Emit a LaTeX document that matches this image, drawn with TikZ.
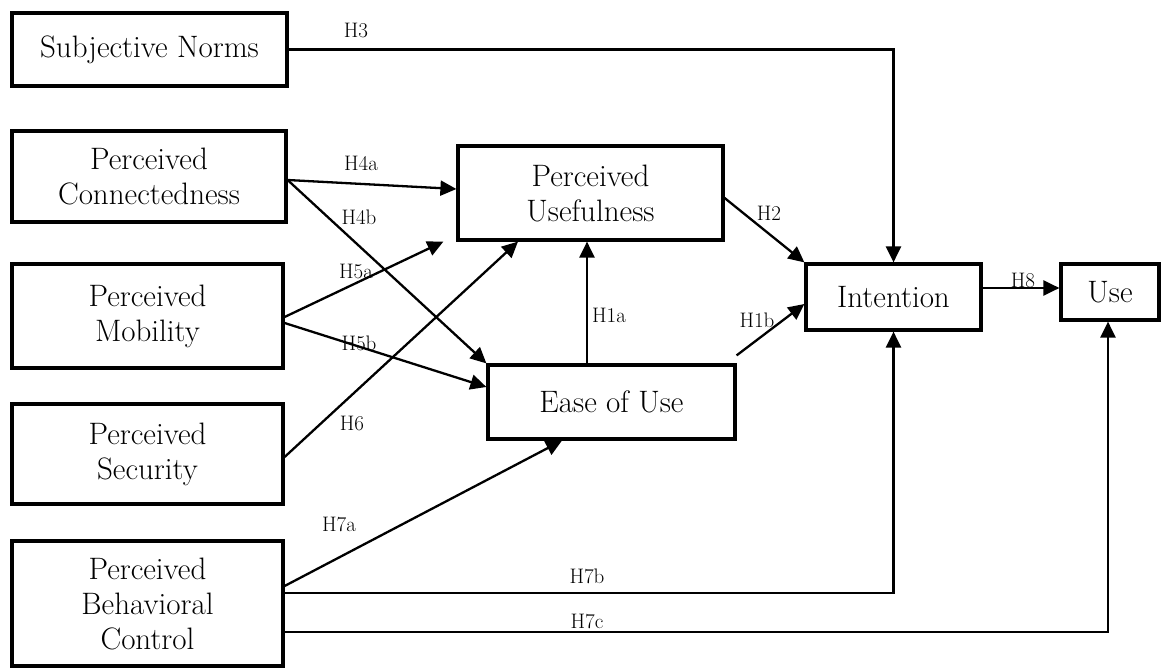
\documentclass[tikz,border=0pt]{standalone}
\usepackage{fontspec}
\usetikzlibrary{arrows.meta,calc}
\begin{document}
\begin{tikzpicture}[x=1pt,y=-1pt,
  box/.style={draw,line width=3.2pt,align=center,inner sep=0pt,
    font=\fontsize{31}{35}\selectfont},
  conn/.style={line width=2.3pt,-{Triangle[length=16pt,width=15pt]}},
  hlab/.style={font=\fontsize{21}{24}\selectfont,inner sep=0pt}]
\useasboundingbox (0,0) rectangle (1162,668);
% boxes
\node[box,minimum width=275pt,minimum height=73pt] (SN) at (149.5,49.5) {Subjective Norms};
\node[box,minimum width=274pt,minimum height=91pt] (PC) at (149,176.5) {Perceived\\Connectedness};
\node[box,minimum width=271pt,minimum height=104pt] (PM) at (147.5,316) {Perceived\\Mobility};
\node[box,minimum width=271pt,minimum height=100pt] (PS) at (147.5,454) {Perceived\\Security};
\node[box,minimum width=271pt,minimum height=125pt] (PBC) at (147.5,603.5) {Perceived\\Behavioral\\Control};
\node[box,minimum width=265pt,minimum height=94pt] (PU) at (590.5,193) {Perceived\\Usefulness};
\node[box,minimum width=247pt,minimum height=74pt] (EU) at (611.5,402) {Ease of Use};
\node[box,minimum width=175pt,minimum height=66pt] (IN) at (893.5,297) {Intention};
\node[box,minimum width=98pt,minimum height=56pt] (US) at (1110,292) {Use};
% connectors
\draw[conn] (SN.east) -| (IN.north);
\draw[conn] ([yshift=-3.5pt]PC.east) -- ([yshift=4pt]PU.west);
\draw[conn] ([yshift=-3.5pt]PC.east) -- (EU.north west);
\draw[conn] ([yshift=-1pt]PM.east) -- ([xshift=-13pt]PU.south west);
\draw[conn] ([yshift=-7pt]PM.east) -- ([yshift=15pt]EU.west);
\draw[conn] ([yshift=-3pt]PS.east) -- ([xshift=-72.5pt]PU.south);
\draw[conn] ([yshift=17.5pt]PBC.east) -- ([xshift=-49.5pt]EU.south);
\draw[conn] ([yshift=10.5pt]PBC.east) -| (IN.south);
\draw[conn] ([yshift=-28.5pt]PBC.east) -| ([xshift=-2pt]US.south);
\draw[conn] ([xshift=-24.5pt]EU.north) -- ([xshift=-24.5pt]EU.north |- PU.south);
\draw[conn] ([yshift=8pt]EU.north east) -- ([yshift=-7pt]IN.west);
\draw[conn] ([yshift=-5pt]PU.east) -- (IN.north west);
\draw[conn] ([yshift=9pt]IN.east) -- ([yshift=9pt]IN.east -| US.west);
% labels
\node[hlab] (l3) at (356,31) {H3};
\node[hlab] (l4a) at (361,163) {H4a};
\node[hlab] (l4b) at (359,217) {H4b};
\node[hlab] (l5a) at (356,271) {H5a};
\node[hlab] (l5b) at (359,343) {H5b};
\node[hlab] (l6) at (352,423) {H6};
\node[hlab] (l7a) at (339,524) {H7a};
\node[hlab] (l7b) at (587,576) {H7b};
\node[hlab] (l7c) at (587,621) {H7c};
\node[hlab] (l1a) at (609,315) {H1a};
\node[hlab] (l1b) at (757,320) {H1b};
\node[hlab] (l2) at (769,213) {H2};
\node[hlab] (l8) at (1023,280) {H8};
\end{tikzpicture}
\end{document}
